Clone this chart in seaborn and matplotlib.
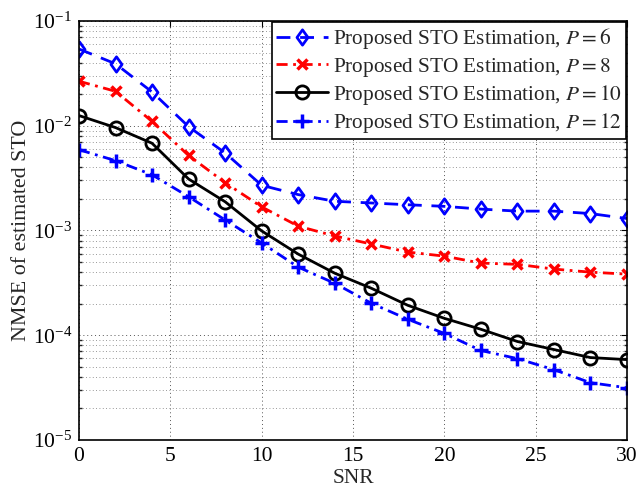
import matplotlib
matplotlib.use("Agg")
import matplotlib.pyplot as plt
import seaborn as sns
import pandas as pd
import numpy as np
from matplotlib.ticker import LogLocator, NullFormatter
from matplotlib.path import Path

snr = [0, 2, 4, 6, 8, 10, 12, 14, 16, 18, 20, 22, 24, 26, 28, 30]
p6 = [0.054, 0.039, 0.021, 0.0098, 0.0055, 0.0027, 0.0022, 0.0019, 0.00183,
      0.00176, 0.0017, 0.0016, 0.00153, 0.00153, 0.00145, 0.0013]
p8 = [0.0266, 0.0213, 0.011, 0.0052, 0.00286, 0.00168, 0.0011, 0.000885,
      0.000743, 0.000622, 0.000569, 0.000488, 0.000475, 0.000428, 0.0004, 0.000383]
p10 = [0.0125, 0.0096, 0.0068, 0.0031, 0.00188, 0.00099, 0.000595, 0.000391,
       0.000281, 0.000193, 0.000145, 0.000114, 0.0000871, 0.000073, 0.0000612, 0.0000585]
p12 = [0.0059, 0.00464, 0.0034, 0.0021, 0.00126, 0.00076, 0.000447, 0.000313,
       0.000202, 0.000142, 0.000104, 0.0000715, 0.0000598, 0.0000469, 0.0000352, 0.0000315]
labels = [r"Proposed STO Estimation, $P = 6$",
          r"Proposed STO Estimation, $P = 8$",
          r"Proposed STO Estimation, $P = 10$",
          r"Proposed STO Estimation, $P = 12$"]

sns.set_theme(style="white")
plt.rcParams["font.family"] = ["Liberation Serif", "DejaVu Serif"]
plt.rcParams["mathtext.fontset"] = "stix"

rows = []
for lab, vals in zip(labels, [p6, p8, p10, p12]):
    for s, v in zip(snr, vals):
        rows.append({"SNR": s, "NMSE": v, "series": lab})
df = pd.DataFrame(rows)

fig = plt.figure(figsize=(6.38, 4.91), dpi=100)
ax = fig.add_axes([0.1238, 0.1039, 0.859, 0.8534])

diamond = Path([(0, 1), (0.72, 0), (0, -1), (-0.72, 0), (0, 1)],
               [Path.MOVETO, Path.LINETO, Path.LINETO, Path.LINETO, Path.CLOSEPOLY])

styles = [
    dict(color="#0000ff", marker=diamond, markersize=11, markerfacecolor="none",
         markeredgewidth=2, linestyle=(0, (5, 3.5))),
    dict(color="#ff0000", marker="x", markersize=6.5, markeredgewidth=2.5,
         linestyle=(0, (4, 2, 1, 2))),
    dict(color="black", marker="o", markersize=9.5, markerfacecolor="none",
         markeredgewidth=2, linestyle="-"),
    dict(color="#0000ff", marker="+", markersize=9.5, markeredgewidth=2.5,
         linestyle=(0, (4, 2, 1, 2))),
]
handles = []
for lab, st in zip(labels, styles):
    sub = df[df["series"] == lab]
    n0 = len(ax.lines)
    sns.lineplot(data=sub, x="SNR", y="NMSE", ax=ax, color=st["color"],
                 linewidth=2, estimator=None, legend=False)
    for ln in ax.lines[n0:]:
        ln.set_marker(st["marker"])
        ln.set_markersize(st["markersize"])
        ln.set_markeredgewidth(st["markeredgewidth"])
        ln.set_markeredgecolor(st["color"])
        ln.set_markerfacecolor(st.get("markerfacecolor", st["color"]))
        ln.set_linestyle(st["linestyle"])
        ln.set_label(lab)
        handles.append(ln)

ax.set_yscale("log")
ax.set_xlim(0, 30)
ax.set_ylim(1e-5, 1e-1)
ax.set_xticks([0, 5, 10, 15, 20, 25, 30])
ax.yaxis.set_major_locator(LogLocator(base=10, numticks=10))
ax.yaxis.set_minor_locator(LogLocator(base=10, subs=np.arange(2, 10), numticks=20))
ax.yaxis.set_minor_formatter(NullFormatter())
ax.grid(True, which="major", axis="both", linestyle=(0, (1, 3)), color="#555555", linewidth=0.7)
ax.grid(True, which="minor", axis="y", linestyle=(0, (1, 3)), color="#777777", linewidth=0.6)
ax.tick_params(axis="both", which="major", labelsize=15.5, direction="in", length=4,
               top=True, right=True, colors="black", width=0.8, pad=5)
ax.tick_params(axis="y", which="minor", direction="in", length=2, right=True, left=True)
for sp in ax.spines.values():
    sp.set_color("black")
    sp.set_linewidth(1.2)
ax.set_xlabel("SNR", fontsize=15.5, labelpad=2)
ax.set_ylabel("NMSE of estimated STO", fontsize=15.8, labelpad=1)

leg = ax.legend(handles=handles, loc="upper right", fontsize=15.3, frameon=True,
                fancybox=False, edgecolor="black", framealpha=1, borderaxespad=0.05,
                handlelength=2.45, handletextpad=0.2, labelspacing=0.2,
                borderpad=0.2)
leg.get_frame().set_linewidth(1.2)

fig.savefig("out.png", dpi=100)
